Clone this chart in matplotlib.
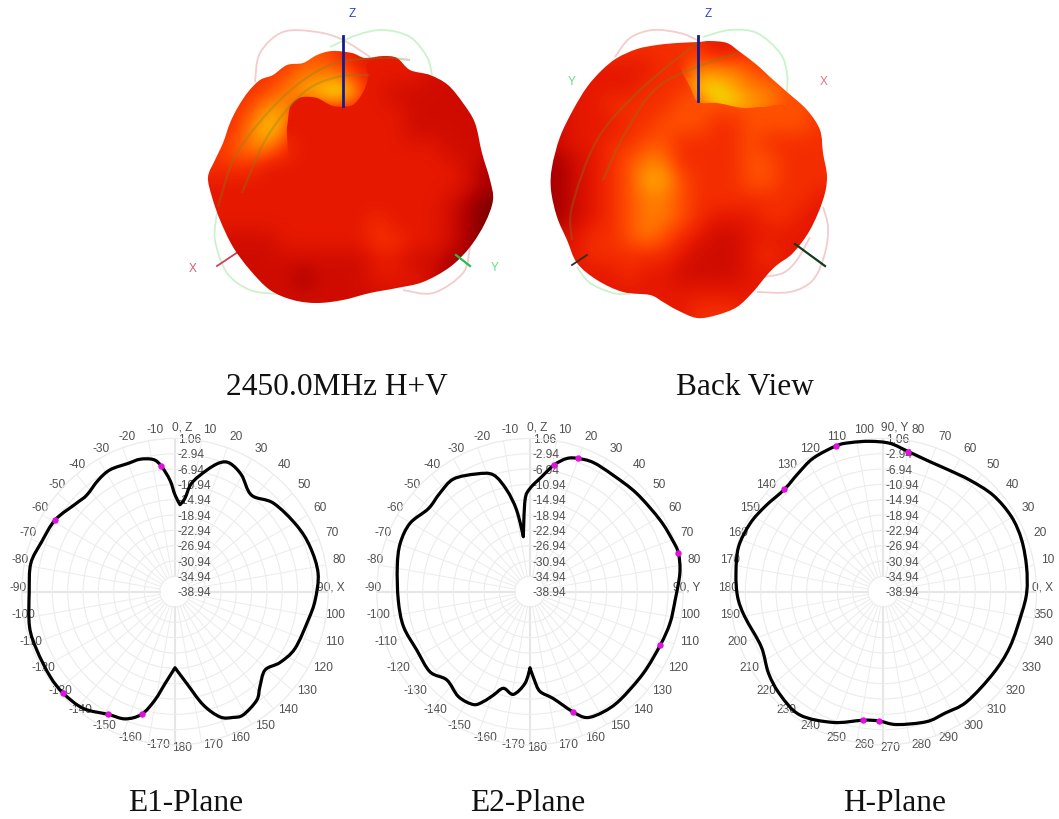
import numpy as np
import matplotlib
matplotlib.use("Agg")
import matplotlib.pyplot as plt
from matplotlib.colors import LinearSegmentedColormap
from matplotlib.patches import PathPatch
from matplotlib.path import Path
from matplotlib.transforms import IdentityTransform

W, H = 1059, 819
SANS = "Liberation Sans"
SERIF = "Liberation Serif"

# ---------- polar data: (angle in degrees, gain in dB) ----------
e1_angle = [0, 3.3, 6.1, 8.7, 14.6, 19.2, 23.2, 29.7, 38.4, 48, 61.3, 71.6, 82.7, 93.4, 102, 115.3, 124,
            131, 138.2, 143, 151, 155.2, 160.2, 166, 172.7, 180, 186.2, 190.5, 195.2, 201.4, 208.5,
            218.2, 227.7, 235.8, 247.1, 256.5, 270, 281.1, 290.6, 301, 312, 317.6, 325.5, 332, 340,
            345.2, 350.7, 353.7, 357.4]
e1_gain = [-13.7, -16.2, -14.4, -10.3, -6.2, -3.3, -2.5, -3.9, -6.8, -4.4, -2.8, -1.8, -1.3, -2.3, -3.4,
           -4.3, -5.9, -7.8, -5.7, -3.5, -2.2, -2.8, -4.2, -8.5, -14.8, -19.1, -14.8, -10.2, -5.8,
           -3.3, -2.5, -0.2, 0.45, 0.45, 0.2, 0.1, -0.9, -0.6, -1.8, -2.5, -4.4, -4.8, -3.6, -2.9,
           -3.3, -3.2, -4.0, -5.9, -9.8]
e1_sharp = [3.3, 180]
e1_mark_angle = [353.7, 301, 227.7, 208.5, 195.2]
e1_mark_gain = [-5.9, -2.5, 0.45, -2.5, -5.8]

e2_angle = [0, 5.8, 10.7, 15.4, 19.7, 26.1, 35.5, 47.3, 61.1, 70.1, 75.5, 83, 93.3, 102.7, 112.2, 125.8,
            140.3, 148.6, 155.7, 160.4, 167.7, 174.3, 177.2, 180, 183.1, 189.2, 195.4, 199.5, 203,
            206.6, 214.3, 223.3, 231.3, 242.8, 254.6, 266.4, 280.7, 290.4, 299.7, 309.3, 317.5,
            325.8, 335.6, 342.6, 347.1, 350.7, 353.1, 356.9]
e2_gain = [-12, -8.8, -5.3, -2.9, -2, -1.4, -1.6, -1.1, -0.2, 0.6, 1.06, 0.45, -1.0, -1.5, -2.2, -2.5,
           -2.2, -2.2, -2.9, -5.7, -10.4, -12.8, -15.9, -19.1, -15, -11.8, -12.8, -10.3, -7.8,
           -6, -5.8, -7.3, -5.5, -5.7, -4.7, -4.5, -3.7, -2.8, -2.9, -4.7, -4.1, -3.4, -5.2,
           -7, -11.7, -17.4, -24.5, -15]
e2_sharp = [180, 353.1]
e2_mark_angle = [10.7, 19.7, 75.5, 112.2, 160.4]
e2_mark_gain = [-5.3, -2, 1.06, -2.2, -5.7]

h_angle = [0, 9.9, 20.5, 30.3, 41.3, 52.2, 61.9, 70.3, 79.9, 87.4, 95.1, 102.5, 107.8, 117.7, 125.7, 134,
           144.3, 152.9, 162.8, 172.9, 182, 190.2, 204.3, 215.4, 225, 235.9, 249, 261.1, 268, 275.7,
           288.4, 296.9, 307.1, 323.4, 336.5, 351.1]
h_gain = [-1.5, -1.0, -0.4, -0.2, -0.8, -2.1, -2.9, -2.9, -1.8, -0.2, 0.45, 0.9, 1.06, 0.4, -0.9, -1.8,
          -0.9, 0.1, 0.6, -0.2, -0.9, -2.2, -4.0, -2.2, -0.9, -0.1, -2.4, -5.0, -5.2, -4.1, -3.2,
          -3.4, -2.9, -3.2, -2.9, -2.4]
h_sharp = []
h_mark_angle = [79.9, 107.8, 134, 261.1, 268]
h_mark_gain = [-1.8, 1.06, -1.8, -5.0, -5.2]

ring_labels = ["1.06", "-2.94", "-6.94", "-10.94", "-14.94", "-18.94", "-22.94", "-26.94", "-30.94",
               "-34.94", "-38.94"]
ring_values = [1.06, -2.94, -6.94, -10.94, -14.94, -18.94, -22.94, -26.94, -30.94, -34.94]

# tick labels, clockwise from the top of each dial
e1_ticks = ["0, Z", "10", "20", "30", "40", "50", "60", "70", "80", "90, X", "100", "110", "120", "130",
            "140", "150", "160", "170", "180", "-170", "-160", "-150", "-140", "-130", "-120", "-110",
            "-100", "-90", "-80", "-70", "-60", "-50", "-40", "-30", "-20", "-10"]
e2_ticks = ["0, Z"] + e1_ticks[1:9] + ["90, Y"] + e1_ticks[10:]
h_ticks = ["90, Y", "80", "70", "60", "50", "40", "30", "20", "10", "0, X", "350", "340", "330", "320",
           "310", "300", "290", "280", "270", "260", "250", "240", "230", "220", "210", "200", "190",
           "180", "170", "160", "150", "140", "130", "120", "110", "100"]

# ---------- the two 3-D views: outline and heat ----------
front_outline_x = [332, 317, 303, 287, 273, 260, 248, 238, 230, 223, 215, 208, 212, 220, 233, 250, 270, 293,
                   317, 343, 370, 397, 423, 450, 470, 485, 493, 490, 482, 475, 463, 448, 430, 410, 397,
                   383, 365, 352]
front_outline_y = [51, 55, 63, 65, 75, 80, 92, 107, 123, 143, 160, 177, 197, 220, 247, 270, 290, 300, 303,
                   300, 293, 288, 282, 267, 247, 223, 200, 180, 153, 123, 103, 85, 75, 70, 58, 56, 58, 53]
front_heat = ["4444455433333333",
              "4444566643332222",
              "4445678963222222",
              "4457733333322222",
              "4468633333322222",
              "4566433333333222",
              "4443333333333321",
              "3333333333333321",
              "3333333333333210",
              "3333333334333210",
              "2222333334433210",
              "2222222223322110",
              "2222212223332110",
              "2222222222222110"]
front_lobe_heat = ["3333333333333333",
                   "3333333333332222",
                   "3333333333222222",
                   "3333333333322222",
                   "3333333333322222",
                   "4566433333333222",
                   "4443333333333321",
                   "3333333333333321",
                   "3333333333333210",
                   "3333333334333210",
                   "2222333334433210",
                   "2222222223322110",
                   "2222212223332110",
                   "2222222222222110"]
front_lobe_x = [287, 288, 290, 296, 303, 317, 333, 350, 358, 365, 368, 367, 383, 396, 408, 425, 425, 320, 292]
front_lobe_y = [135, 120, 107, 100, 97, 98, 106, 106, 100, 88, 77, 64, 61, 63, 74, 120, 200, 205, 165]

back_outline_x = [698, 677, 657, 637, 617, 602, 587, 573, 560, 552, 551, 557, 567, 577, 597, 623, 650, 663,
                  677, 697, 717, 737, 753, 767, 777, 793, 810, 823, 827, 823, 820, 807, 787, 770, 757,
                  740, 727, 710]
back_outline_y = [42, 43, 45, 49, 58, 70, 87, 110, 137, 167, 190, 217, 240, 263, 280, 292, 295, 302, 310,
                  318, 315, 307, 292, 275, 265, 253, 230, 200, 177, 153, 130, 110, 92, 77, 65, 52, 43, 41]
back_heat = ["4444444443344444",
             "3333333466654444",
             "2333344588766544",
             "2334444558876554",
             "2333445554455554",
             "2334455444454444",
             "1234566444455444",
             "1234577544455444",
             "1234566544444443",
             "1234566543334433",
             "2344565432233333",
             "3344444322234333",
             "3333433222233333",
             "3333333333333333",
             "3333333344433333"]
back_shelf_heat = ["4444444443344444",
                   "3333334444444444",
                   "2333344455555544",
                   "2334444555555554",
                   "2333445554455554",
                   "2334455444454444",
                   "1234566444455444",
                   "1234577544455444",
                   "1234566544444443",
                   "1234566543334433",
                   "2344565432233333",
                   "3344444322234333",
                   "3333433222233333",
                   "3333333333333333",
                   "3333333344433333"]
back_shelf_x = [670, 677, 690, 698, 717, 743, 763, 790, 790, 670, 640, 640]
back_shelf_y = [50, 63, 87, 102, 103, 108, 107, 110, 170, 170, 140, 60]

heat_colors = ["#7a0000", "#aa0000", "#d00c00", "#e61800", "#f52e00", "#ff5000", "#ff7a00", "#ffa500",
               "#f0dc00", "#a8e83a"]
heat_cmap = LinearSegmentedColormap.from_list("heat", heat_colors)

# thin guide curves behind and on the 3-D shapes (x list, y list, colour)
front_curves = [([255, 260, 283, 317, 343, 370], [82, 53, 32, 32, 40, 57], "#f4cccc"),
                ([330, 357, 383, 410, 427, 432], [47, 35, 30, 37, 57, 75], "#ccf2cc"),
                ([217, 215, 227, 250, 277], [213, 240, 273, 290, 294], "#ccf2cc"),
                ([403, 433, 463, 470], [290, 293, 273, 247], "#f4cccc")]
back_curves = [([615, 630, 653, 680, 697], [57, 38, 30, 33, 40], "#f4cccc"),
               ([703, 730, 757, 780, 787, 787], [37, 30, 33, 53, 73, 92], "#ccf2cc"),
               ([577, 590, 613, 630], [267, 283, 293, 294], "#ccf2cc"),
               ([823, 828, 825, 813, 790, 757], [207, 227, 253, 280, 292, 292], "#f4cccc"),
               ([810, 797, 783, 763], [237, 260, 273, 277], "#f4cccc")]
front_arcs = [([218, 237, 283, 330, 380, 410], [207, 153, 97, 65, 58, 60]),
              ([242, 267, 303, 337, 370], [193, 137, 93, 77, 75])]
back_arcs = [([572, 572, 597, 640, 697], [240, 207, 140, 90, 43]),
             ([603, 627, 663, 737], [180, 130, 83, 53])]


def smooth_path(x, y, closed=False, sharp=()):
    """Join the given points with Catmull-Rom Bezier segments; sharp points keep a corner."""
    p = np.column_stack([x, y]).astype(float)
    n = len(p)
    if closed:
        prev_, next_ = np.roll(p, 1, axis=0), np.roll(p, -1, axis=0)
    else:
        prev_ = np.vstack([p[0], p[:-1]])
        next_ = np.vstack([p[1:], p[-1]])
    t = (next_ - prev_) / 6.0
    for i in sharp:
        t[i] = 0.0
    verts = [p[0]]
    codes = [Path.MOVETO]
    for i in range(n if closed else n - 1):
        j = (i + 1) % n
        verts += [p[i] + t[i], p[j] - t[j], p[j]]
        codes += [Path.CURVE4] * 3
    return Path(np.array(verts), codes)


fig = plt.figure(figsize=(W / 100, H / 100), dpi=100, facecolor="white")
main = fig.add_axes([0, 0, 1, 1], zorder=0)
main.set_xlim(0, W)
main.set_ylim(H, 0)
main.axis("off")


def draw_curve(x, y, color, lw, zorder, alpha=1.0):
    main.add_patch(PathPatch(smooth_path(x, y), fc="none", ec=color, lw=lw, alpha=alpha, zorder=zorder))


def draw_heat(heat, clip_path, extent, zorder):
    grid = np.array([[int(c) for c in row] for row in heat], dtype=float)
    im = main.imshow(grid, cmap=heat_cmap, vmin=0, vmax=9, extent=extent, aspect="auto",
                     interpolation="bicubic", zorder=zorder)
    im.set_clip_path(PathPatch(clip_path, transform=main.transData))


front_path = smooth_path(front_outline_x, front_outline_y, closed=True)
back_path = smooth_path(back_outline_x, back_outline_y, closed=True)
front_extent = (203, 497, 307, 47)
back_extent = (550, 830, 320, 40)
for cx_, cy_, col_ in front_curves + back_curves:
    draw_curve(cx_, cy_, col_, 1.3, 1)
draw_heat(front_heat, front_path, front_extent, 2)
draw_heat(back_heat, back_path, back_extent, 2)
# the front lobe of each view hides the bright hollow behind it with a hard edge
draw_heat(front_lobe_heat, smooth_path(front_lobe_x, front_lobe_y, closed=True), front_extent, 2.5)
draw_heat(back_shelf_heat, smooth_path(back_shelf_x, back_shelf_y, closed=True), back_extent, 2.5)
for ax_, ay_ in front_arcs + back_arcs:
    draw_curve(ax_, ay_, "#6e8a20", 1.6, 3, alpha=0.32)
main.set_xlim(0, W)
main.set_ylim(H, 0)

# axes of the 3-D views
main.plot([343, 343], [36, 106], color="#101c90", lw=2, zorder=4)
main.plot([217, 238], [266, 252], color="#d04050", lw=1.3, zorder=1)
main.plot([456, 470], [255, 266], color="#20c050", lw=1.6, zorder=4)
main.plot([698, 698], [36, 101], color="#101c90", lw=2, zorder=4)
main.plot([572, 587], [265, 255], color="#303020", lw=1.3, zorder=4)
main.plot([795, 825], [244, 266], color="#143a20", lw=1.6, zorder=4)
for tx, ty, s, c in [(352, 14, "Z", "#3040c0"), (708, 14, "Z", "#3040c0"), (193, 269, "X", "#d86070"),
                     (495, 268, "Y", "#60e080"), (572, 82, "Y", "#60e080"), (824, 82, "X", "#e87080")]:
    main.text(tx, ty, s, color=c, fontsize=8.5, family=SANS, ha="center", va="center", zorder=5)

# captions
for tx, ty, s in [(226, 395, "2450.0MHz H+V"), (676, 395, "Back View"), (128, 811, "E1-Plane"),
                  (470, 811, "E2-Plane"), (843, 811, "H-Plane")]:
    main.text(tx, ty, s, fontsize=22.6, family=SERIF, color="#111111", ha="left", va="baseline")

R = 153.3
CY = 591.7
Z = 460.0  # radius of the outer ring in label-offset units


def dial(cx, angle, gain, sharp, mark_a, mark_g, ticks, horizontal):
    ax = fig.add_axes([(cx - R) / W, 1 - (CY + R) / H, 2 * R / W, 2 * R / H], projection="polar", zorder=2)
    ax.patch.set_alpha(0)
    if horizontal:
        ax.set_theta_zero_location("E")
        ax.set_theta_direction(1)
    else:
        ax.set_theta_zero_location("N")
        ax.set_theta_direction(-1)
    ax.set_rlim(-38.94, 1.06)
    ax.set_xticks([])
    ax.set_yticks(ring_values)
    ax.set_yticklabels([])
    ax.tick_params(length=0)
    ax.xaxis.grid(False)
    ax.yaxis.grid(True, color="#ececec", lw=0.8)
    ax.spines["polar"].set_color("#ececec")
    ax.spines["polar"].set_linewidth(0.8)
    for deg in range(0, 360, 10):
        major = deg % 90 == 0
        ax.plot([np.radians(deg)] * 2, [-34.94, 1.06], color="#e6e6e6" if major else "#ececec",
                lw=1.5 if major else 0.7, zorder=1)
    for i, s in enumerate(ring_labels):
        ax.text(0.5 + 8 / (2 * Z), 1.0 - i * 0.05 - 0.005, s, transform=ax.transAxes, ha="left", va="center",
                fontsize=8.6, family=SANS, color="#505050", zorder=2, clip_on=False)
    for i, s in enumerate(ticks):
        d = i * 10
        a = np.radians(d)
        if d in (0, 180):
            dx, ha = -8, "left"
        elif d < 90 or 100 < d < 180:
            dx, ha = 480 * np.sin(a), "left"
        elif d in (90, 100):
            dx, ha = 510, "right"
        else:
            dx, ha = 497 * np.sin(a), "left"
        dy = 480 * np.cos(a) + 12
        ax.text(0.5 + dx / (2 * Z), 0.5 + dy / (2 * Z), s, transform=ax.transAxes, ha=ha, va="center",
                fontsize=8.6, family=SANS, color="#505050", zorder=2, clip_on=False)
    # the trace: positions go through the polar scale, then a smooth closed curve joins them
    pts = ax.transData.transform(np.column_stack([np.radians(angle), gain]))
    corners = [angle.index(v) for v in sharp]
    ax.add_patch(PathPatch(smooth_path(pts[:, 0], pts[:, 1], closed=True, sharp=corners), fc="none", ec="black",
                           lw=2.3, transform=IdentityTransform(), zorder=3, joinstyle="round", clip_on=False))
    ax.plot(np.radians(mark_a), mark_g, ls="none", marker="o", ms=3.6, mfc="#e010e0", mec="#e010e0", zorder=4,
            clip_on=False)
    ax.set_rlim(-38.94, 1.06)


dial(175.0, e1_angle, e1_gain, e1_sharp, e1_mark_angle, e1_mark_gain, e1_ticks, False)
dial(530.0, e2_angle, e2_gain, e2_sharp, e2_mark_angle, e2_mark_gain, e2_ticks, False)
dial(883.3, h_angle, h_gain, h_sharp, h_mark_angle, h_mark_gain, h_ticks, True)

fig.savefig("out.png", dpi=100)
